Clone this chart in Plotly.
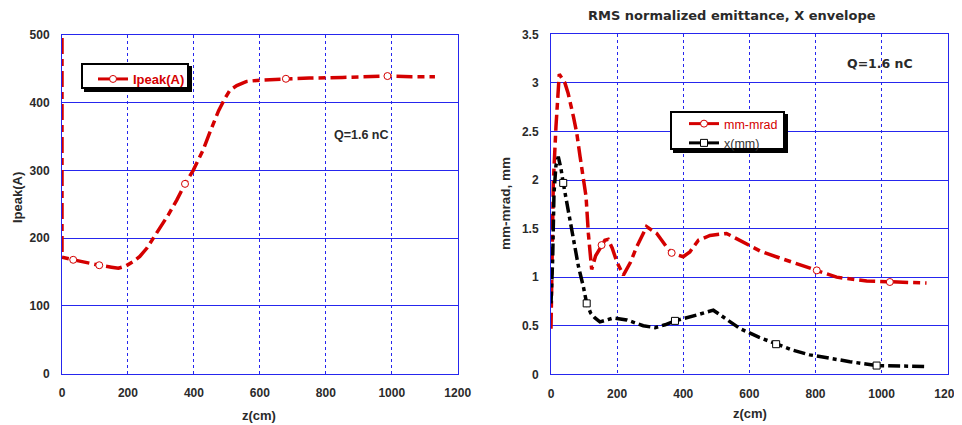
import plotly.graph_objects as go

# ---------------- data ----------------
# Left panel: peak current vs z
z_ipeak = [0, 0, 34, 70, 113, 150, 171, 194, 215, 236, 257, 277, 300, 322, 348, 373, 398,
           428, 450, 475, 494, 509, 530, 560, 600, 640, 679, 750, 850, 987, 1060, 1131]
ipeak = [495, 172, 168, 164, 160, 157, 155.5, 159, 165, 173, 185, 200, 217, 234, 256, 280, 300,
         330, 358, 388, 406, 418, 425, 431, 433, 434, 435, 436, 437, 439, 438, 438]
ipeak_marker_idx = [2, 4, 15, 26, 29]

# Right panel: emittance (mm-mrad) and x envelope (mm)
z_emit = [0, 2, 5, 7, 15, 19, 25, 42, 52, 68, 78, 88, 98, 106, 113, 123, 135, 153, 163, 173,
          185, 200, 219, 240, 259, 289, 320, 350, 365, 400, 420, 446, 481, 531, 600, 632, 690,
          743, 804, 864, 955, 1025, 1136]
emit = [0.47, 0.8, 1.5, 1.97, 2.55, 2.82, 3.09, 3.0, 2.89, 2.65, 2.48, 2.24, 2.03, 1.83, 1.45,
        1.08, 1.22, 1.33, 1.38, 1.39, 1.3, 1.15, 1.02, 1.15, 1.31, 1.52, 1.45, 1.31, 1.25, 1.21,
        1.26, 1.38, 1.43, 1.45, 1.33, 1.27, 1.2, 1.14, 1.07, 1.0, 0.96, 0.95, 0.94]
emit_marker_idx = [17, 28, 38, 41]

z_xenv = [0, 5, 9, 15, 22, 30, 37, 52, 68, 83, 98, 108, 120, 133, 148, 170, 189, 229, 279, 315,
          345, 375, 410, 441, 491, 530, 572, 630, 681, 730, 783, 850, 904, 985, 1060, 1136]
xenv = [0.73, 1.18, 1.86, 2.15, 2.24, 2.12, 1.97, 1.69, 1.38, 1.11, 0.90, 0.73, 0.63, 0.58, 0.54,
        0.56, 0.58, 0.56, 0.50, 0.48, 0.51, 0.55, 0.58, 0.61, 0.66, 0.57, 0.47, 0.38, 0.31, 0.25,
        0.20, 0.16, 0.13, 0.09, 0.085, 0.08]
xenv_marker_idx = [6, 11, 21, 28, 33]

x_ticks = [0, 200, 400, 600, 800, 1000, 1200]
left_y_ticks = [0, 100, 200, 300, 400, 500]
right_y_ticks = [0, 0.5, 1, 1.5, 2, 2.5, 3, 3.5]

# ---------------- styling ----------------
OFF = 8            # page body margin of the HTML page
W, H = 954, 417
RED = "#d40000"
BLACK = "#000000"
BLUE = "#2626ee"
TXT = "#2a2a2a"
FONT = "Liberation Sans"
RED_DASH = "16px,5px,7px,5px"
BLACK_DASH = "12px,4px,4px,4px"


def px(x):
    """screen x pixel -> paper fraction"""
    return (x - OFF) / W


def py(y):
    """screen y pixel -> paper fraction"""
    return 1 - (y - OFF) / H


def pick(vals, idx):
    return [vals[i] for i in idx]


fig = go.Figure()

# Left panel traces
fig.add_trace(go.Scatter(x=z_ipeak, y=ipeak, mode="lines", xaxis="x", yaxis="y",
                         line=dict(color=RED, width=3.5, dash=RED_DASH),
                         showlegend=False, hoverinfo="skip"))
fig.add_trace(go.Scatter(x=pick(z_ipeak, ipeak_marker_idx), y=pick(ipeak, ipeak_marker_idx),
                         mode="markers", xaxis="x", yaxis="y",
                         marker=dict(symbol="circle", size=7, color="white",
                                     line=dict(color=RED, width=1)),
                         showlegend=False))
fig.add_trace(go.Scatter(x=[None], y=[None], mode="lines+markers", name="Ipeak(A)",
                         xaxis="x", yaxis="y", legend="legend",
                         line=dict(color=RED, width=3),
                         marker=dict(symbol="circle", size=7, color="white",
                                     line=dict(color=RED, width=1))))

# Right panel traces
fig.add_trace(go.Scatter(x=z_emit, y=emit, mode="lines", xaxis="x2", yaxis="y2",
                         line=dict(color=RED, width=3.5, dash=RED_DASH),
                         showlegend=False))
fig.add_trace(go.Scatter(x=pick(z_emit, emit_marker_idx), y=pick(emit, emit_marker_idx),
                         mode="markers", xaxis="x2", yaxis="y2",
                         marker=dict(symbol="circle", size=7, color="white",
                                     line=dict(color=RED, width=1)),
                         showlegend=False))
fig.add_trace(go.Scatter(x=z_xenv, y=xenv, mode="lines", xaxis="x2", yaxis="y2",
                         line=dict(color=BLACK, width=3.5, dash=BLACK_DASH),
                         showlegend=False))
fig.add_trace(go.Scatter(x=pick(z_xenv, xenv_marker_idx), y=pick(xenv, xenv_marker_idx),
                         mode="markers", xaxis="x2", yaxis="y2",
                         marker=dict(symbol="square", size=7, color="white",
                                     line=dict(color=BLACK, width=1)),
                         showlegend=False))
fig.add_trace(go.Scatter(x=[None], y=[None], mode="lines+markers",
                         name="<span style='color:%s'>mm-mrad</span>" % RED,
                         xaxis="x2", yaxis="y2", legend="legend2",
                         line=dict(color=RED, width=3),
                         marker=dict(symbol="circle", size=7, color="white",
                                     line=dict(color=RED, width=1))))
fig.add_trace(go.Scatter(x=[None], y=[None], mode="lines+markers",
                         name="<span style='color:#333333'>x(mm)</span>",
                         xaxis="x2", yaxis="y2", legend="legend2",
                         line=dict(color=BLACK, width=3),
                         marker=dict(symbol="square", size=7, color="white",
                                     line=dict(color=BLACK, width=1))))

tickfont = dict(family=FONT, size=12, color=TXT, weight="bold")

xcommon = dict(range=[0, 1200], tickvals=x_ticks, showgrid=True, gridcolor=BLUE, gridwidth=1,
               griddash="dot", showline=True, linecolor=BLUE, linewidth=1, mirror=True,
               zeroline=False, ticks="", tickfont=tickfont, ticklabelstandoff=8,
               ticklabeloverflow="allow")
ycommon = dict(showgrid=True, gridcolor=BLUE, gridwidth=1, showline=True, linecolor=BLUE,
               linewidth=1, mirror=True, zeroline=False, ticks="", tickfont=tickfont,
               ticklabelstandoff=9)

fig.update_layout(
    width=W, height=H, margin=dict(l=0, r=0, t=0, b=0, autoexpand=False),
    paper_bgcolor="white", plot_bgcolor="white",
    xaxis=dict(domain=[px(62), px(457.7)], anchor="y", **xcommon),
    yaxis=dict(domain=[py(373.7), py(34.7)], anchor="x", range=[0, 500],
               tickvals=left_y_ticks, **ycommon),
    xaxis2=dict(domain=[px(551), px(947.7)], anchor="y2", **xcommon),
    yaxis2=dict(domain=[py(374.3), py(34.3)], anchor="x2", range=[0, 3.5],
                tickvals=right_y_ticks, **ycommon),
    legend=dict(x=px(93), y=py(64), xanchor="left", yanchor="top",
                bgcolor="rgba(0,0,0,0)", borderwidth=0,
                font=dict(family=FONT, size=13, color=RED, weight="bold")),
    legend2=dict(x=px(684), y=py(109), xanchor="left", yanchor="top",
                 bgcolor="rgba(0,0,0,0)", borderwidth=0, tracegroupgap=0,
                 font=dict(family=FONT, size=12.5, color=RED)),
    showlegend=True,
)

annos = [
    dict(text="RMS normalized emittance, X envelope", x=px(731.7), y=py(15),
         font=dict(family="DejaVu Sans", size=13, color=TXT, weight="bold")),
    dict(text="Q=1.6 nC", x=px(361.5), y=py(135),
         font=dict(family=FONT, size=12.5, color=TXT, weight="bold")),
    dict(text="Q=1.6 nC", x=px(880), y=py(63),
         font=dict(family="DejaVu Sans", size=12.5, color=TXT, weight="bold")),
    dict(text="z(cm)", x=px(259), y=py(415),
         font=dict(family=FONT, size=13, color=TXT, weight="bold")),
    dict(text="z(cm)", x=px(750), y=py(413),
         font=dict(family=FONT, size=13, color=TXT, weight="bold")),
    dict(text="Ipeak(A)", x=px(17), y=py(198), textangle=-90,
         font=dict(family=FONT, size=13, color=TXT, weight="bold")),
    dict(text="mm-mrad, mm", x=px(506), y=py(204), textangle=-90,
         font=dict(family=FONT, size=13.5, color=TXT, weight="bold")),
]
for a in annos:
    a.update(xref="paper", yref="paper", showarrow=False, xanchor="center", yanchor="middle")
fig.update_layout(annotations=annos)


def legend_box(x0, y0, x1, y1):
    return [
        dict(type="rect", xref="paper", yref="paper", x0=px(x0 + 3), x1=px(x1 + 3),
             y0=py(y1 + 3), y1=py(y0 + 3), fillcolor="black", line=dict(width=0), layer="above"),
        dict(type="rect", xref="paper", yref="paper", x0=px(x0 + 1), x1=px(x1 - 1),
             y0=py(y1 - 1), y1=py(y0 + 1), fillcolor="white",
             line=dict(color="black", width=2), layer="above"),
    ]


fig.update_layout(shapes=legend_box(81, 63, 189, 89) + legend_box(670, 111, 785, 150))

fig.write_html("out.html")
